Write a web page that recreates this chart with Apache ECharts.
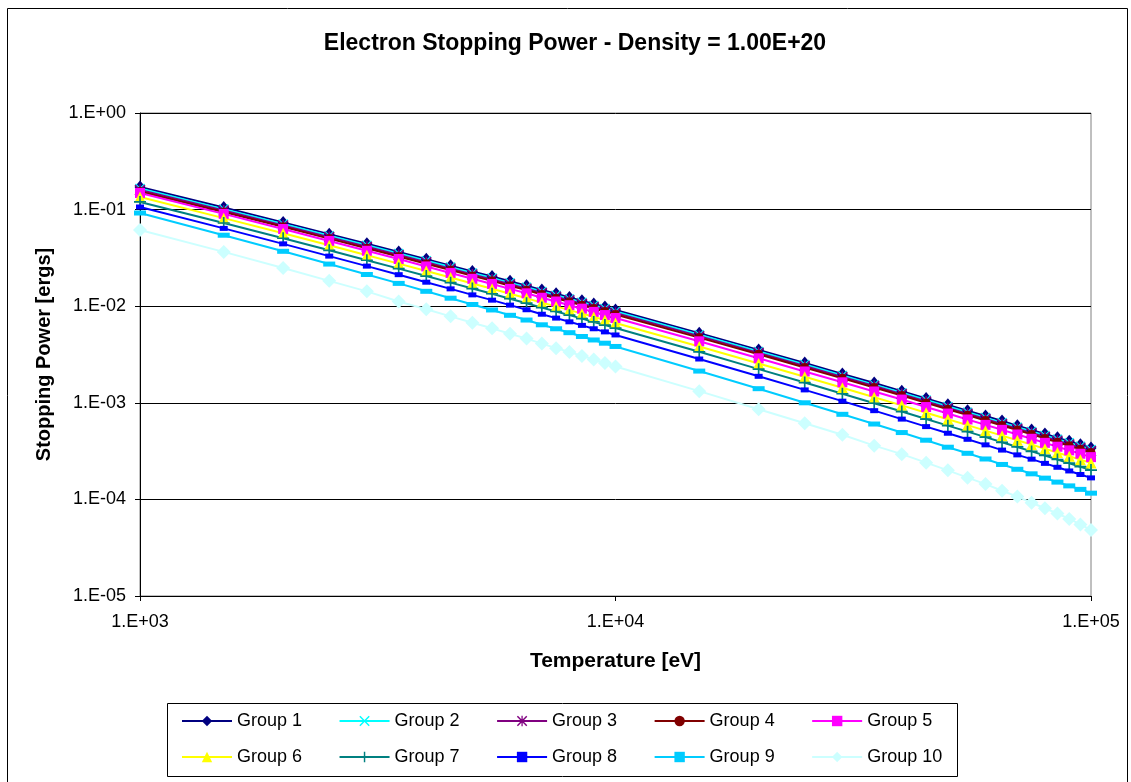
<!DOCTYPE html>
<html>
<head>
<meta charset="utf-8">
<script src="https://cdn.jsdelivr.net/npm/echarts@6/dist/echarts.min.js"></script>
<style>
html,body{margin:0;padding:0;background:#fff;}
#chart{width:1131px;height:782px;}
</style>
</head>
<body>
<div id="chart"></div>
<script>
// Temperature [eV]
const temperatures = [1000,1500,2000,2500,3000,3500,4000,4500,5000,5500,6000,6500,7000,7500,8000,8500,9000,9500,10000,
  15000,20000,25000,30000,35000,40000,45000,50000,55000,60000,65000,70000,75000,80000,85000,90000,95000,100000];

const group1 = [0.1714,0.1050,0.0737,0.0557,0.0443,0.0364,0.0306,0.0263,0.0229,0.0203,0.0181,0.0163,0.0147,0.01345,0.01234,0.01138,0.01054,0.00980,0.00914,
  0.00526,0.00353,0.00258,0.00199,0.00160,0.00132,0.00111,0.000952,0.000828,0.000729,0.000647,0.000580,0.000524,0.000476,0.000435,0.000399,0.000368,0.000340];
const group2 = [0.1652,0.1012,0.0710,0.0537,0.0427,0.0351,0.0295,0.0254,0.0221,0.0196,0.01745,0.01571,0.01417,0.01297,0.01190,0.01097,0.01016,0.00945,0.00881,
  0.00507,0.00340,0.00249,0.00192,0.00154,0.00127,0.00107,0.000918,0.000798,0.000703,0.000624,0.000559,0.000505,0.000459,0.000419,0.000385,0.000355,0.000328];
const group3 = [0.1596,0.0978,0.0686,0.0519,0.0412,0.0339,0.0285,0.0245,0.0213,0.0189,0.01685,0.01518,0.01369,0.01252,0.01149,0.01059,0.00981,0.00912,0.00851,
  0.00490,0.00329,0.00240,0.00185,0.00149,0.00123,0.00103,0.000886,0.000771,0.000679,0.000602,0.000540,0.000488,0.000443,0.000405,0.000371,0.000343,0.000317];
const group4 = [0.1542,0.0945,0.0663,0.0501,0.0398,0.0327,0.0275,0.0237,0.0206,0.0183,0.01628,0.01466,0.01322,0.01210,0.01110,0.01024,0.00948,0.00882,0.00822,
  0.00473,0.00318,0.00232,0.00179,0.00144,0.00119,0.000998,0.000856,0.000745,0.000656,0.000582,0.000522,0.000471,0.000428,0.000391,0.000359,0.000331,0.000306];
const group5 = [0.1486,0.0903,0.0630,0.0474,0.0375,0.0308,0.0258,0.0221,0.0192,0.0170,0.01511,0.01359,0.01223,0.01118,0.01024,0.00943,0.00873,0.00810,0.00755,
  0.00433,0.00289,0.00211,0.00163,0.00131,0.00108,0.000904,0.000774,0.000672,0.000591,0.000525,0.000470,0.000424,0.000385,0.000351,0.000322,0.000297,0.000274];
const group6 = [0.1349,0.0816,0.0568,0.0427,0.0337,0.0276,0.0231,0.0198,0.01715,0.01516,0.01348,0.01211,0.01089,0.00995,0.00911,0.00839,0.00775,0.00719,0.00670,
  0.00382,0.00255,0.00186,0.00143,0.00114,0.000941,0.000789,0.000676,0.000587,0.000515,0.000457,0.000409,0.000369,0.000335,0.000305,0.000280,0.000258,0.000238];
const group7 = [0.1200,0.0726,0.0505,0.0379,0.0299,0.0245,0.0205,0.01754,0.01523,0.01346,0.01196,0.01074,0.00967,0.00882,0.00808,0.00744,0.00687,0.00638,0.00594,
  0.00337,0.00223,0.00162,0.00124,0.000989,0.000812,0.000679,0.000580,0.000503,0.000441,0.000390,0.000349,0.000314,0.000285,0.000259,0.000237,0.000218,0.000201];
const group8 = [0.1064,0.0639,0.0442,0.0330,0.0260,0.0212,0.01772,0.01512,0.01310,0.01155,0.01026,0.00919,0.00826,0.00753,0.00689,0.00633,0.00584,0.00542,0.00504,
  0.00284,0.00188,0.00136,0.00104,0.000829,0.000678,0.000567,0.000484,0.000419,0.000367,0.000324,0.000289,0.000261,0.000236,0.000215,0.000197,0.000181,0.000167];
const group9 = [0.0922,0.0543,0.0370,0.0273,0.0213,0.01722,0.01426,0.01210,0.01042,0.00914,0.00805,0.00719,0.00642,0.00584,0.00532,0.00486,0.00447,0.00414,0.00383,
  0.00213,0.00140,0.00100,0.000760,0.000603,0.000492,0.000410,0.000347,0.000300,0.000262,0.000230,0.000205,0.000184,0.000166,0.000151,0.000138,0.000127,0.000116];
const group10 = [0.0615,0.0365,0.0249,0.0183,0.01425,0.01120,0.00930,0.00785,0.00675,0.00590,0.00518,0.00462,0.00410,0.00368,0.00336,0.00306,0.00280,0.00258,0.00238,
  0.00132,0.000857,0.000614,0.000467,0.000360,0.000294,0.000240,0.000200,0.000168,0.000144,0.000123,0.000107,0.0000923,0.0000809,0.0000714,0.0000628,0.0000551,0.0000482];

const groupNames = ['Group 1','Group 2','Group 3','Group 4','Group 5','Group 6','Group 7','Group 8','Group 9','Group 10'];
const groupData = [group1,group2,group3,group4,group5,group6,group7,group8,group9,group10];
const groupColors = ['#000080','#00FFFF','#800080','#800000','#FF00FF','#FFFF00','#008080','#0000FF','#00CCFF','#CCFFFF'];

const X_PATH = 'path://M0,1L1,0L5,4L9,0L10,1L6,5L10,9L9,10L5,6L1,10L0,9L4,5Z';
const STAR_PATH = 'path://M0,1L1,0L5,4L9,0L10,1L6,5L10,9L9,10L5,6L1,10L0,9L4,5Z M4.4,0L5.6,0L5.6,10L4.4,10Z';
const PLUS_PATH = 'path://M4.3,0L5.7,0L5.7,4.3L10,4.3L10,5.7L5.7,5.7L5.7,10L4.3,10L4.3,5.7L0,5.7L0,4.3L4.3,4.3Z';
const groupSymbols = ['diamond', X_PATH, STAR_PATH, 'circle', 'rect', 'triangle', PLUS_PATH, 'rect', 'rect', 'diamond'];
const groupSymbolSizes = [[11,13], 10, 11, 9, 10, 11, 12, [8,5], [12,5], 14];

const FONT = '"Liberation Sans", Arial, sans-serif';

function expLabel(v) {
  const e = Math.round(Math.log10(v));
  const a = Math.abs(e);
  return '1.E' + (e < 0 ? '-' : '+') + (a < 10 ? '0' + a : '' + a);
}

const chart = echarts.init(document.getElementById('chart'), null, {renderer: 'canvas'});

const series = groupNames.map((name, i) => ({
  name: name,
  type: 'line',
  data: temperatures.map((t, j) => [t, groupData[i][j]]),
  symbol: groupSymbols[i],
  symbolSize: groupSymbolSizes[i],
  showAllSymbol: true,
  lineStyle: {color: groupColors[i], width: 2},
  itemStyle: {color: groupColors[i]},
  emphasis: {disabled: true},
  animation: false
}));

const legendCommon = {
  left: 176,
  itemWidth: 50,
  itemHeight: 13,
  itemGap: 36.5,
  textStyle: {fontSize: 18, fontFamily: FONT, color: '#000'},
  selectedMode: false
};

chart.setOption({
  backgroundColor: '#fff',
  animation: false,
  title: {
    text: 'Electron Stopping Power - Density = 1.00E+20',
    left: 570,
    textAlign: 'center',
    top: 27,
    textStyle: {fontSize: 23, fontWeight: 'bold', fontFamily: FONT, color: '#000'}
  },
  grid: {
    left: 140, top: 113, width: 951, height: 483,
    show: true, borderColor: '#808080', borderWidth: 1, backgroundColor: '#fff'
  },
  xAxis: {
    type: 'log',
    logBase: 10,
    min: 1000,
    max: 100000,
    name: 'Temperature [eV]',
    nameLocation: 'middle',
    nameGap: 55,
    nameTextStyle: {fontSize: 21, fontWeight: 'bold', fontFamily: FONT, color: '#000'},
    axisLine: {lineStyle: {color: '#000', width: 1}},
    axisTick: {show: true, length: 5, lineStyle: {color: '#000'}},
    minorTick: {show: false},
    axisLabel: {fontSize: 18, fontFamily: FONT, color: '#000', margin: 17, formatter: expLabel},
    splitLine: {show: false}
  },
  yAxis: {
    type: 'log',
    logBase: 10,
    min: 0.00001,
    max: 1,
    name: 'Stopping Power [ergs]',
    nameLocation: 'middle',
    nameRotate: 90,
    nameGap: 86,
    nameTextStyle: {fontSize: 20, fontWeight: 'bold', fontFamily: FONT, color: '#000'},
    axisLine: {lineStyle: {color: '#000', width: 1}},
    axisTick: {show: true, length: 5, lineStyle: {color: '#000'}},
    minorTick: {show: false},
    axisLabel: {fontSize: 18, fontFamily: FONT, color: '#000', margin: 14, formatter: expLabel},
    splitLine: {show: true, lineStyle: {color: '#000', width: 1}}
  },
  legend: [
    Object.assign({}, legendCommon, {top: 707, data: groupNames.slice(0, 5)}),
    Object.assign({}, legendCommon, {top: 743, data: groupNames.slice(5)})
  ],
  graphic: [
    {type: 'rect', shape: {x: 7.5, y: 8.5, width: 1120, height: 800}, style: {fill: 'none', stroke: '#000', lineWidth: 1}, silent: true, z: -10},
    {type: 'rect', shape: {x: 167.5, y: 703.5, width: 790, height: 73}, style: {fill: 'none', stroke: '#000', lineWidth: 1}, silent: true}
  ],
  series: series
});
</script>
</body>
</html>
